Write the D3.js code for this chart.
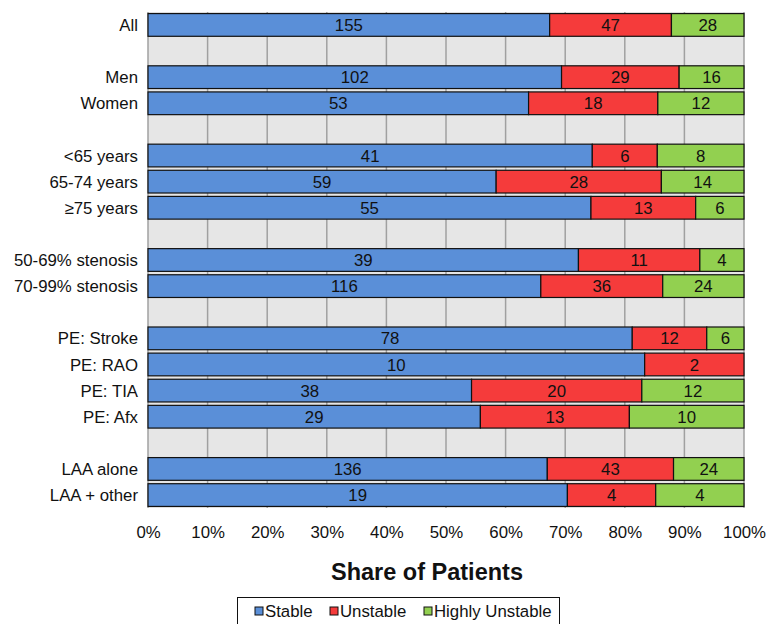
<!DOCTYPE html>
<html>
<head>
<meta charset="utf-8">
<script src="https://cdn.jsdelivr.net/npm/d3@7"></script>
<style>
  body { margin: 0; background: #fff; }
  text { font-family: "Liberation Sans", Arial, sans-serif; }
</style>
</head>
<body>
<script>
'use strict'

// rows, blank strings are the spacer rows
var categories = ['All', '', 'Men', 'Women', '', '<65 years', '65-74 years', '\u226575 years', '',
  '50-69% stenosis', '70-99% stenosis', '', 'PE: Stroke', 'PE: RAO', 'PE: TIA', 'PE: Afx', '',
  'LAA alone', 'LAA + other']
var stable = [155, null, 102, 53, null, 41, 59, 55, null, 39, 116, null, 78, 10, 38, 29, null, 136, 19]
var unstable = [47, null, 29, 18, null, 6, 28, 13, null, 11, 36, null, 12, 2, 20, 13, null, 43, 4]
var highly = [28, null, 16, 12, null, 8, 14, 6, null, 4, 24, null, 6, 0, 12, 10, null, 24, 4]
var seriesNames = ['Stable', 'Unstable', 'Highly Unstable']
var colors = ['#5a8fd8', '#f53b3b', '#92d050']
var ticks = [0, 0.1, 0.2, 0.3, 0.4, 0.5, 0.6, 0.7, 0.8, 0.9, 1]

var width = 768
var height = 624
var margin = { top: 12, right: 24, bottom: 116, left: 148 }
var fontSize = 16.8

var svg = d3.select('body').append('svg')
  .attr('width', width)
  .attr('height', height)

var x = d3.scaleLinear().domain([0, 1]).range([margin.left, width - margin.right])
var y = d3.scaleBand()
  .domain(d3.range(categories.length))
  .range([margin.top, height - margin.bottom])
  .paddingInner(0.13)
  .paddingOuter(0.06)

// plot background
svg.append('rect')
  .attr('x', x(0)).attr('y', margin.top)
  .attr('width', x(1) - x(0)).attr('height', height - margin.bottom - margin.top)
  .attr('fill', '#e6e6e6')

svg.append('g').selectAll('line')
  .data(ticks)
  .enter().append('line')
  .attr('x1', function (d) { return x(d) })
  .attr('x2', function (d) { return x(d) })
  .attr('y1', margin.top)
  .attr('y2', height - margin.bottom)
  .attr('stroke', '#a0a0a0')
  .attr('stroke-width', 1.5)

var rows = categories.map(function (c, i) {
  if (stable[i] === null) return null
  var vals = [stable[i], unstable[i], highly[i]]
  var total = d3.sum(vals)
  var acc = 0
  return vals.map(function (v, k) {
    var seg = { row: i, k: k, v: v, x0: acc / total, x1: (acc + v) / total }
    acc += v
    return seg
  }).filter(function (s) { return s.v > 0 })
}).filter(function (r) { return r !== null })

var segs = [].concat.apply([], rows)

var bars = svg.append('g')
bars.selectAll('rect')
  .data(segs)
  .enter().append('rect')
  .attr('x', function (d) { return x(d.x0) })
  .attr('y', function (d) { return y(d.row) })
  .attr('width', function (d) { return x(d.x1) - x(d.x0) })
  .attr('height', y.bandwidth())
  .attr('fill', function (d) { return colors[d.k] })
  .attr('stroke', '#111')
  .attr('stroke-width', 1.2)

bars.selectAll('text')
  .data(segs)
  .enter().append('text')
  .attr('x', function (d) { return (x(d.x0) + x(d.x1)) / 2 })
  .attr('y', function (d) { return y(d.row) + y.bandwidth() / 2 })
  .attr('dy', '0.36em')
  .attr('text-anchor', 'middle')
  .attr('font-size', fontSize)
  .attr('fill', '#111')
  .text(function (d) { return d.v })

// category labels
svg.append('g').selectAll('text')
  .data(categories)
  .enter().append('text')
  .attr('x', margin.left - 10)
  .attr('y', function (d, i) { return y(i) + y.bandwidth() / 2 })
  .attr('dy', '0.36em')
  .attr('text-anchor', 'end')
  .attr('font-size', fontSize)
  .attr('fill', '#111')
  .text(function (d) { return d })

// x axis
var xAxis = svg.append('g')
  .attr('transform', 'translate(0,' + (height - margin.bottom) + ')')
  .call(d3.axisBottom(x).tickValues(ticks).tickFormat(d3.format('.0%')).tickSize(0).tickPadding(18))
xAxis.select('.domain').remove()
xAxis.selectAll('text')
  .attr('font-size', fontSize)
  .attr('fill', '#111')
  .style('font-family', '"Liberation Sans", Arial, sans-serif')

svg.append('text')
  .attr('x', 427)
  .attr('y', 580)
  .attr('text-anchor', 'middle')
  .attr('font-size', 23.5)
  .attr('font-weight', 'bold')
  .attr('fill', '#111')
  .text('Share of Patients')

// legend
var legend = svg.append('g')
legend.append('rect')
  .attr('x', 237.5).attr('y', 597.5)
  .attr('width', 322).attr('height', 40)
  .attr('fill', '#fff')
  .attr('stroke', '#111')

var legendX = [255, 330, 424]
var item = legend.selectAll('g.item')
  .data(seriesNames)
  .enter().append('g')
  .attr('class', 'item')
  .attr('transform', function (d, i) { return 'translate(' + legendX[i] + ',611)' })

item.append('rect')
  .attr('x', 0).attr('y', -4)
  .attr('width', 8).attr('height', 8)
  .attr('fill', function (d, i) { return colors[i] })
  .attr('stroke', '#111')

item.append('text')
  .attr('x', 10)
  .attr('dy', '0.36em')
  .attr('font-size', fontSize)
  .attr('fill', '#111')
  .text(function (d) { return d })
</script>
</body>
</html>
